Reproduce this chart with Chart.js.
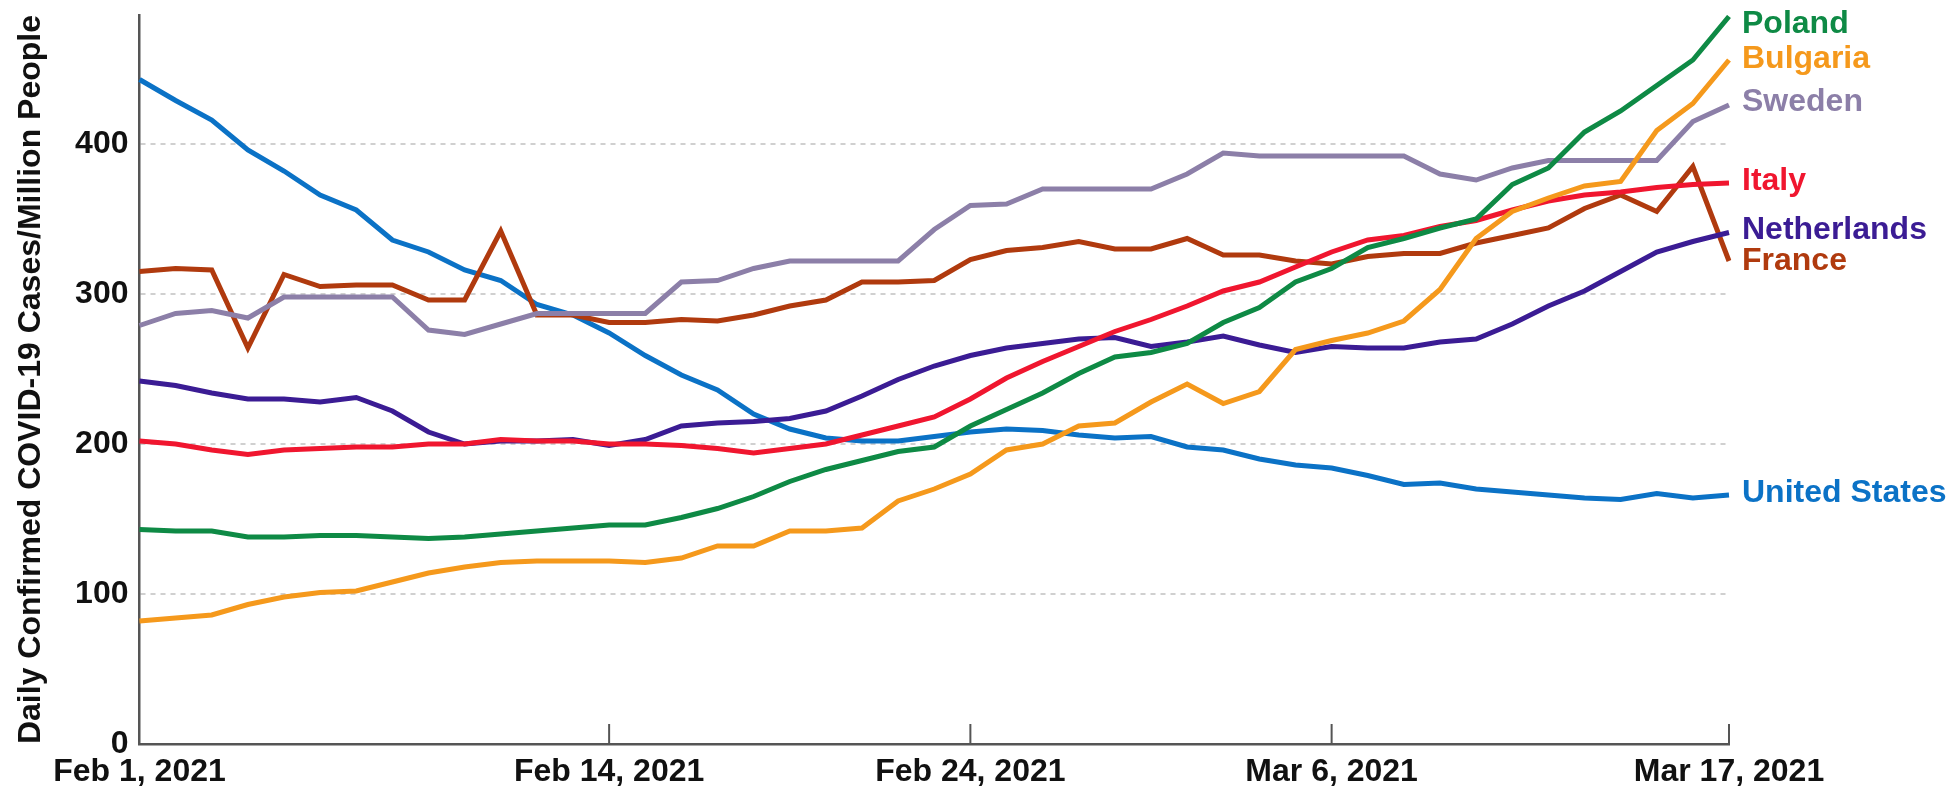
<!DOCTYPE html>
<html>
<head>
<meta charset="utf-8">
<script src="https://cdn.jsdelivr.net/npm/chart.js@4.4.1/dist/chart.umd.min.js"></script>
<style>
html,body{margin:0;padding:0;background:#ffffff;overflow:hidden;}
#wrap{width:1954px;height:790px;position:relative;}
canvas{display:block;}
</style>
</head>
<body>
<div id="wrap"><canvas id="c" width="1954" height="790"></canvas></div>
<script>
// ---- data ----
const categories = [
  "Feb 1, 2021","Feb 2, 2021","Feb 3, 2021","Feb 4, 2021","Feb 5, 2021","Feb 6, 2021","Feb 7, 2021",
  "Feb 8, 2021","Feb 9, 2021","Feb 10, 2021","Feb 11, 2021","Feb 12, 2021","Feb 13, 2021","Feb 14, 2021",
  "Feb 15, 2021","Feb 16, 2021","Feb 17, 2021","Feb 18, 2021","Feb 19, 2021","Feb 20, 2021","Feb 21, 2021",
  "Feb 22, 2021","Feb 23, 2021","Feb 24, 2021","Feb 25, 2021","Feb 26, 2021","Feb 27, 2021","Feb 28, 2021",
  "Mar 1, 2021","Mar 2, 2021","Mar 3, 2021","Mar 4, 2021","Mar 5, 2021","Mar 6, 2021","Mar 7, 2021",
  "Mar 8, 2021","Mar 9, 2021","Mar 10, 2021","Mar 11, 2021","Mar 12, 2021","Mar 13, 2021","Mar 14, 2021",
  "Mar 15, 2021","Mar 16, 2021","Mar 17, 2021"
];
const tickLabels = ["Feb 1, 2021","Feb 14, 2021","Feb 24, 2021","Mar 6, 2021","Mar 17, 2021"];
const yTickValues = [0,100,200,300,400];
const yAxisTitle = "Daily Confirmed COVID-19 Cases/Million People";

const seriesNames = ["Poland","Bulgaria","Sweden","Italy","Netherlands","France","United States"];

const poland = [143,142,142,138,138,139,139,138,137,138,140,142,144,146,146,
                151,157,165,175,183,189,195,198,212,223,234,247,258,261,267,
                281,291,308,317,331,337,344,350,373,384,408,422,439,456,485];
const bulgaria = [82,84,86,93,98,101,102,108,114,118,121,122,122,122,121,
                  124,132,132,142,142,144,162,170,180,196,200,212,214,228,240,
                  227,235,263,269,274,282,303,337,355,364,372,375,409,427,456];
const sweden = [279,287,289,284,298,298,298,298,276,273,280,287,287,287,287,
                308,309,317,322,322,322,322,343,359,360,370,370,370,370,380,
                394,392,392,392,392,392,380,376,384,389,389,389,389,415,426];
const italy = [202,200,196,193,196,197,198,198,200,200,203,202,202,200,200,
               199,197,194,197,200,206,212,218,230,244,255,265,275,283,292,
               302,308,318,328,336,339,345,349,356,362,366,368,371,373,374];
const netherlands = [242,239,234,230,230,228,231,222,208,200,202,202,203,199,203,
                     212,214,215,217,222,232,243,252,259,264,267,270,271,265,268,
                     272,266,261,265,264,264,268,270,280,292,302,315,328,335,341];
const france = [315,317,316,264,313,305,306,306,296,296,342,286,286,281,281,
                283,282,286,292,296,308,308,309,323,329,331,335,330,330,337,
                326,326,322,320,325,327,327,334,339,344,357,366,355,385,322];
const unitedStates = [443,429,416,396,382,366,356,336,328,316,309,293,286,274,259,
                      246,236,220,210,204,202,202,205,208,210,209,206,204,205,198,
                      196,190,186,184,179,173,174,170,168,166,164,163,167,164,166];

const seriesValues = [poland, bulgaria, sweden, italy, netherlands, france, unitedStates];
const seriesColors = ["#0e8a45","#f5991c","#8c7fa8","#f0162f","#3b1c94","#b03a0e","#0b72c6"];

// ---- styling ----
const FONT_FAMILY = "'Liberation Sans', Arial, Helvetica, sans-serif";
const AXIS_COLOR = "#555555";
const TEXT_COLOR = "#111111";

const endLabelPlugin = {
  id: 'endLabels',
  afterDatasetsDraw(chart, args, opts) {
    const ctx = chart.ctx;
    ctx.save();
    ctx.font = "bold 32px " + FONT_FAMILY;
    ctx.textBaseline = 'alphabetic';
    ctx.textAlign = 'left';
    chart.data.datasets.forEach((ds, i) => {
      const meta = chart.getDatasetMeta(i);
      const pt = meta.data[meta.data.length - 1];
      const shift = (opts.shifts && opts.shifts[ds.label]) || 0;
      ctx.fillStyle = ds.borderColor;
      ctx.fillText(ds.label, pt.x + 13, pt.y + shift + 11.5);
    });
    ctx.restore();
  }
};

const tickMarkPlugin = {
  id: 'tickMarks',
  afterDraw(chart, args, opts) {
    const ctx = chart.ctx;
    const xs = chart.scales.x;
    const bottom = chart.chartArea.bottom;
    ctx.save();
    ctx.strokeStyle = AXIS_COLOR;
    ctx.lineWidth = 2;
    tickLabels.forEach((lab, k) => {
      if (k === 0) return;
      const idx = categories.indexOf(lab);
      const x = xs.getPixelForValue(idx);
      ctx.beginPath();
      ctx.moveTo(x, bottom);
      ctx.lineTo(x, bottom - 20);
      ctx.stroke();
    });
    ctx.restore();
  }
};

const datasets = seriesNames.map((name, i) => ({
  label: name,
  data: seriesValues[i],
  borderColor: seriesColors[i],
  backgroundColor: seriesColors[i],
  borderWidth: 5,
  pointRadius: 0,
  pointHoverRadius: 0,
  tension: 0,
  fill: false
}));

new Chart(document.getElementById('c'), {
  type: 'line',
  data: { labels: categories, datasets: datasets },
  options: {
    responsive: false,
    devicePixelRatio: 1,
    animation: false,
    events: [],
    layout: { padding: { left: 0, right: 225, top: 15, bottom: 0 } },
    plugins: {
      legend: { display: false },
      tooltip: { enabled: false },
      endLabels: { shifts: { "Poland": 4.5, "Bulgaria": -4, "Sweden": -6, "Italy": -5, "Netherlands": -5.5, "France": -3, "United States": -5 } }
    },
    scales: {
      x: {
        type: 'category',
        offset: false,
        grid: { display: false, drawTicks: false },
        border: { display: true, color: AXIS_COLOR, width: 2.5 },
        ticks: {
          autoSkip: false,
          maxRotation: 0,
          minRotation: 0,
          padding: 9,
          color: TEXT_COLOR,
          font: { family: FONT_FAMILY, size: 32, weight: 'bold' },
          callback: function(value, index) {
            const lab = categories[index];
            return tickLabels.includes(lab) ? lab : '';
          }
        },
        afterFit: function(scale) { scale.height = 46; scale.paddingLeft = 0; scale.paddingRight = 0; }
      },
      y: {
        type: 'linear',
        min: 0,
        max: 486,
        afterBuildTicks: function(scale) { scale.ticks = yTickValues.map(v => ({ value: v })); },
        grid: {
          drawTicks: false,
          lineWidth: 2,
          color: (c) => (c.tick && c.tick.value === 0) ? 'rgba(0,0,0,0)' : '#d0d0d0'
        },
        border: { display: true, color: AXIS_COLOR, width: 2.5, dash: [5, 5] },
        ticks: {
          padding: 11,
          color: TEXT_COLOR,
          font: { family: FONT_FAMILY, size: 32, weight: 'bold' }
        },
        title: {
          display: true,
          text: yAxisTitle,
          color: TEXT_COLOR,
          font: { family: FONT_FAMILY, size: 32, weight: 'bold' },
          padding: { top: 12, bottom: 0 }
        },
        afterFit: function(scale) { scale.width = 139.5; scale.paddingTop = 0; scale.paddingBottom = 0; }
      }
    }
  },
  plugins: [endLabelPlugin, tickMarkPlugin]
});
</script>
</body>
</html>
